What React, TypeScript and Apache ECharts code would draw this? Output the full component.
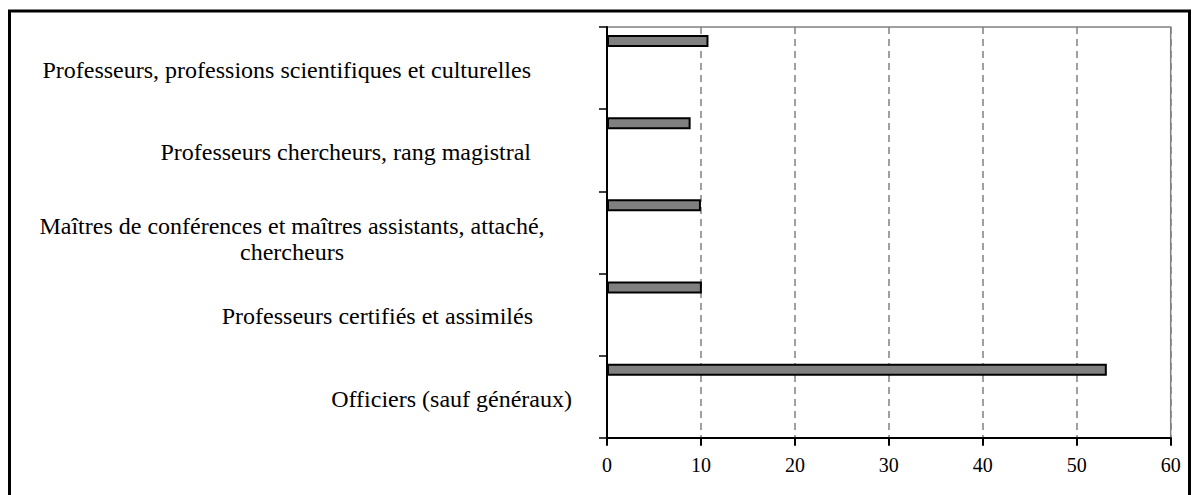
import React, { useEffect, useRef } from 'react';
import * as echarts from 'echarts';

// Categories, top to bottom
const categories = [
  'Professeurs, professions scientifiques et culturelles',
  'Professeurs chercheurs, rang magistral',
  'Maîtres de conférences et maîtres assistants, attaché,\nchercheurs',
  'Professeurs certifiés et assimilés',
  'Officiers (sauf généraux)',
];
const values = [10.8, 8.9, 10.0, 10.1, 53.2];
const xMin = 0;
const xMax = 60;
const xInterval = 10;

// label styling (right padding from axis, per category)
const labelRightPad = [76, 76, 54, 74, 35];
const labelBlockWidth = [0, 0, 522, 0, 0];
const multiLineHeight = 26;
const multiTopSpacer = 10;

const FONT = '"Liberation Serif", "Times New Roman", serif';

export default function App() {
  const ref = useRef<HTMLDivElement>(null);
  useEffect(() => {
    const chart = echarts.init(ref.current!, null, { renderer: 'svg' });
    const rich: Record<string, any> = {
      sp: { fontSize: 8, lineHeight: multiTopSpacer, color: 'transparent' },
    };
    categories.forEach((_, i) => {
      const multi = !!labelBlockWidth[i];
      const base: any = {
        fontSize: 24,
        fontFamily: FONT,
        color: '#000',
        lineHeight: multi ? multiLineHeight : 27,
        padding: [0, labelRightPad[i], 0, 0],
      };
      if (multi) {
        base.width = labelBlockWidth[i];
        base.align = 'center';
      }
      rich['c' + i] = base;
    });
    chart.setOption({
      animation: false,
      graphic: [
        {
          type: 'rect',
          shape: { x: 9.5, y: 11, width: 1180, height: 500 },
          style: { fill: 'none', stroke: '#000', lineWidth: 3 },
          silent: true,
        },
      ],
      grid: {
        left: 607,
        right: 23.3,
        top: 27,
        bottom: 57.3,
        show: true,
        borderColor: '#808080',
        borderWidth: 1.5,
        backgroundColor: 'transparent',
      },
      xAxis: {
        type: 'value',
        min: xMin,
        max: xMax,
        interval: xInterval,
        axisLine: { show: true, lineStyle: { color: '#000', width: 2 } },
        axisTick: { show: true, length: 8, lineStyle: { color: '#000', width: 2 } },
        axisLabel: { fontSize: 20, fontFamily: FONT, color: '#000', margin: 17 },
        splitLine: {
          show: true,
          lineStyle: { color: '#808080', width: 1.5, type: [7, 5] },
        },
      },
      yAxis: {
        type: 'category',
        inverse: true,
        data: categories,
        axisLine: { show: true, lineStyle: { color: '#000', width: 2 } },
        axisTick: { show: true, length: 8, lineStyle: { color: '#000', width: 1.5 } },
        axisLabel: {
          margin: 0,
          align: 'right',
          padding: [4, 0, 0, 0],
          formatter: (value: string, index: number) => {
            const lines = value.split('\n').map((line) => `{c${index}|${line}}`);
            if (lines.length > 1) lines.unshift('{sp| }');
            return lines.join('\n');
          },
          rich,
        },
        splitLine: { show: false },
      },
      series: [
        {
          type: 'bar',
          data: values,
          barWidth: 12,
          barGap: '350%',
          itemStyle: { color: '#808080', borderColor: '#000', borderWidth: 2 },
        },
        {
          type: 'bar',
          data: [],
          barWidth: 12,
        },
      ],
    });
    return () => chart.dispose();
  }, []);
  return (
    <div
      ref={ref}
      style={{ position: 'absolute', left: 0, top: 0, width: 1194, height: 495 }}
    />
  );
}
